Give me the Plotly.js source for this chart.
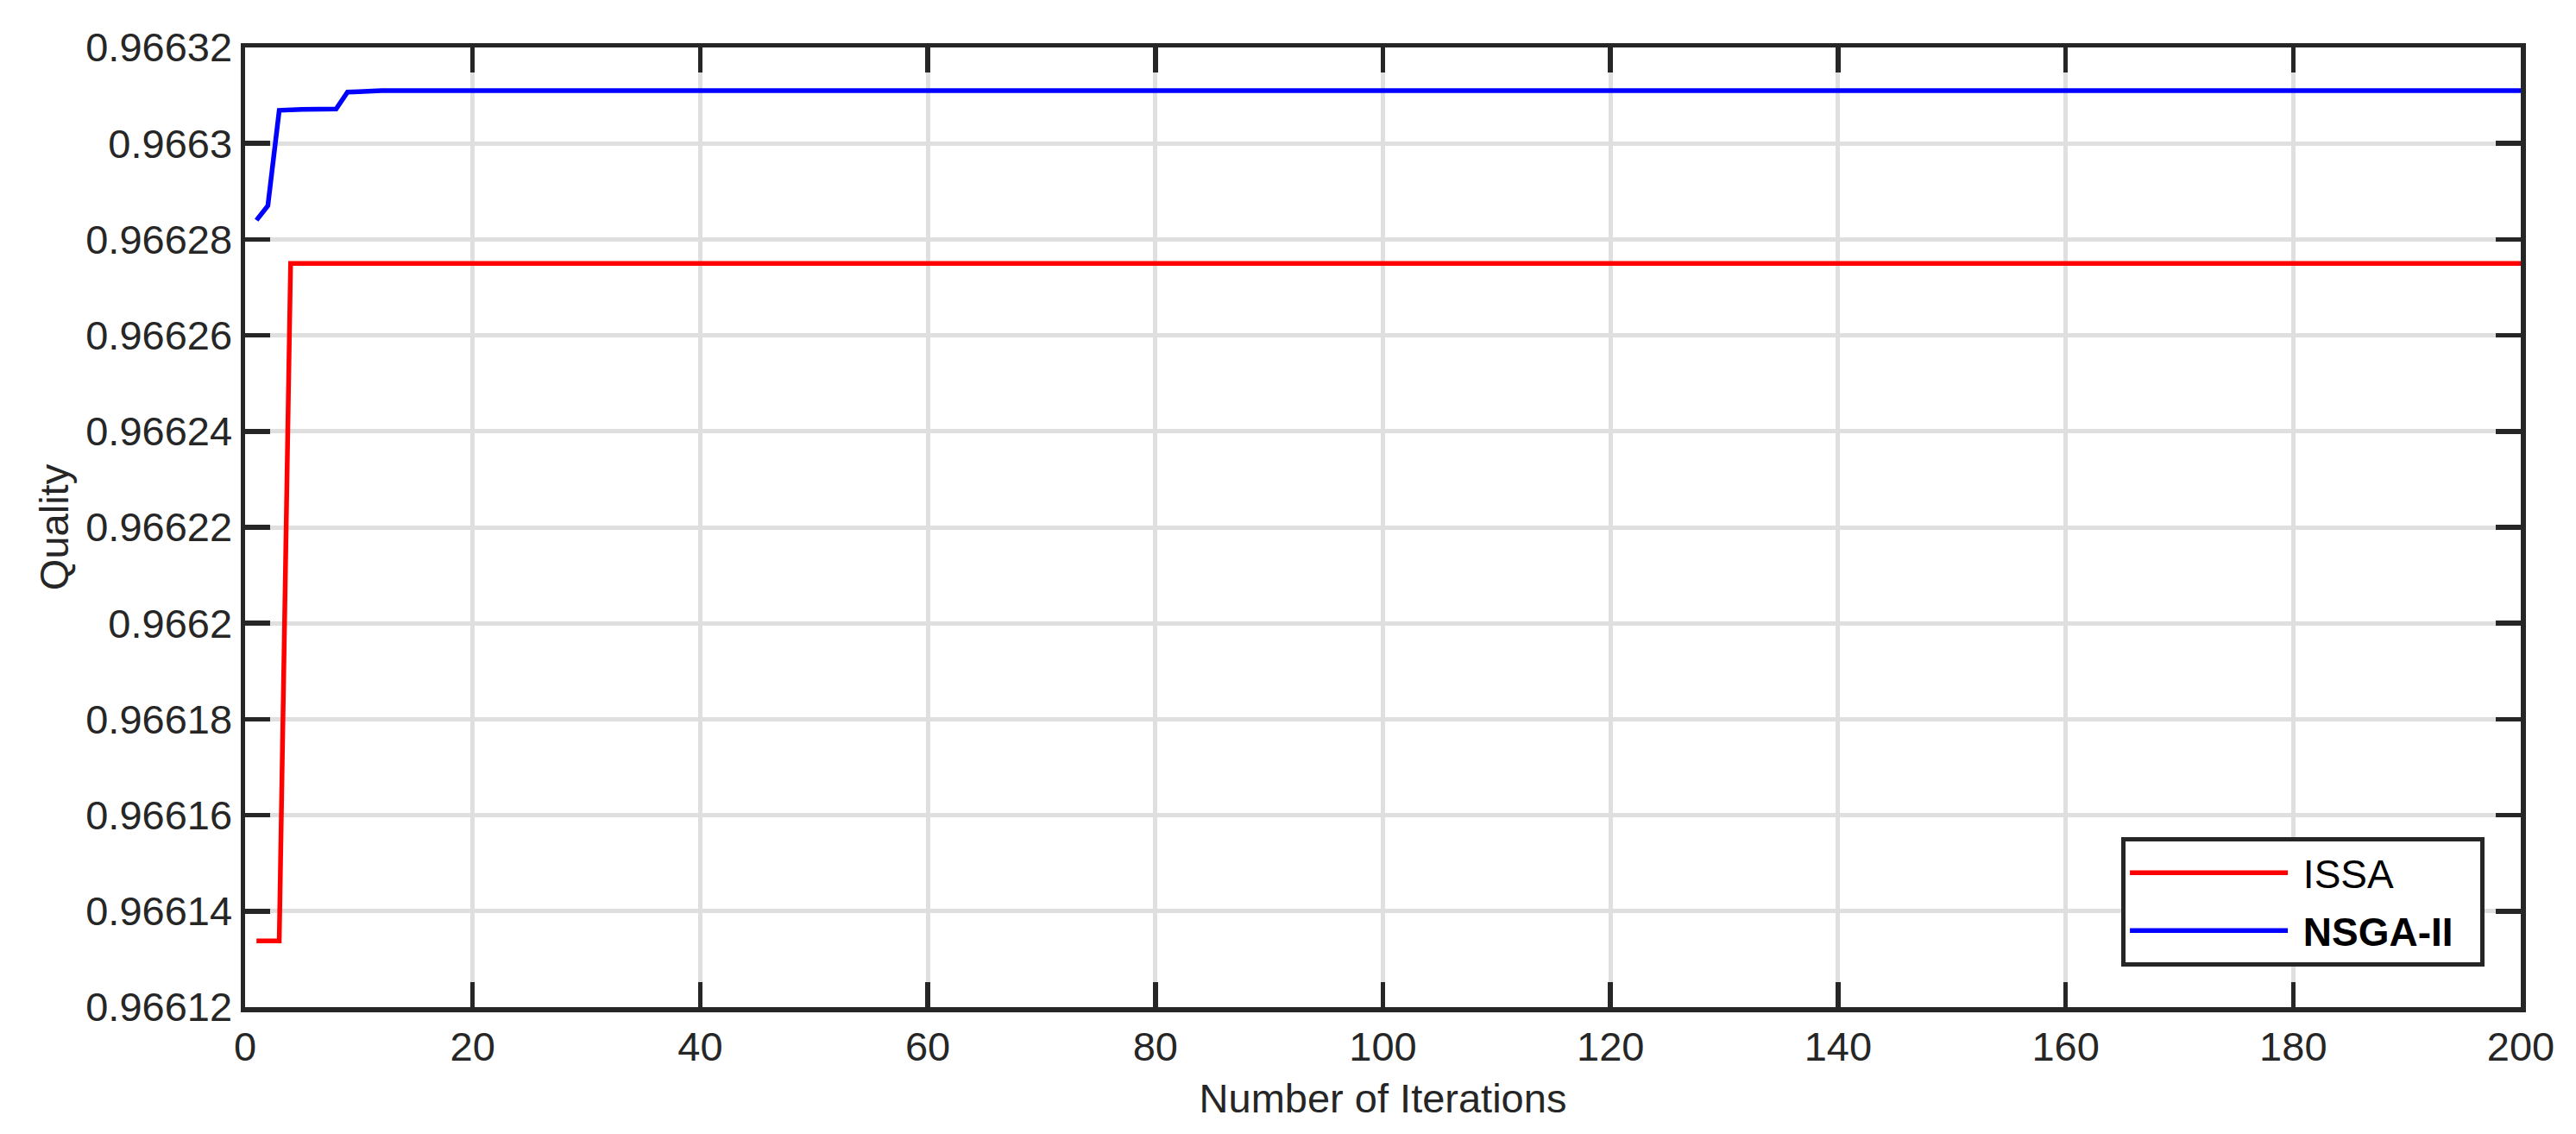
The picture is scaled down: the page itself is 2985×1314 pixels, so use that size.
<!DOCTYPE html>
<html>
<head>
<meta charset="utf-8">
<script src="https://cdn.plot.ly/plotly-3.0.1.min.js"></script>
<style>html,body{margin:0;padding:0;background:#fff;}#chart{width:2985px;height:1314px;}</style>
</head>
<body>
<div id="chart"></div>
<script>
// Series names
const seriesNames = ["ISSA", "NSGA-II"];
// ISSA: change points (flat afterwards until iteration 200)
const issaIter = [1, 2, 3, 4, 200];
const issaQuality = [0.9661338, 0.9661338, 0.9661338, 0.966275, 0.966275];
// NSGA-II: change points
const nsgaIter = [1, 2, 3, 4, 5, 8, 9, 10, 12, 200];
const nsgaQuality = [0.966284, 0.966287, 0.9663069, 0.9663069, 0.9663071, 0.9663072, 0.9663107, 0.9663108, 0.966311, 0.966311];
// Axis ticks
const xTickVals = [0, 20, 40, 60, 80, 100, 120, 140, 160, 180, 200];
const yTickVals = [0.96612, 0.96614, 0.96616, 0.96618, 0.9662, 0.96622, 0.96624, 0.96626, 0.96628, 0.9663, 0.96632];
const yTickText = ["0.96612", "0.96614", "0.96616", "0.96618", "0.9662", "0.96622", "0.96624", "0.96626", "0.96628", "0.9663", "0.96632"];
const xTitle = "Number of Iterations";
const yTitle = "Quality";

const FONT = "Liberation Sans, Arial, Helvetica, sans-serif";
const INK = "#262626";
const NB = "\u00a0";

const traces = [
  {x: issaIter, y: issaQuality, name: NB + seriesNames[0] + NB + NB, legendgroup: "a", type: "scatter", mode: "lines",
   line: {color: "#ff0000", width: 5.5}},
  {x: nsgaIter, y: nsgaQuality, name: NB + "<b>" + seriesNames[1] + "</b>" + NB + NB, legendgroup: "b", type: "scatter", mode: "lines",
   line: {color: "#0000ff", width: 5.5}}
];

const axisCommon = {
  showline: true, linecolor: INK, linewidth: 5.5, mirror: "ticks",
  ticks: "inside", ticklen: 29, tickwidth: 5.5, tickcolor: INK,
  showgrid: true, gridcolor: "#dfdfdf", gridwidth: 5,
  zeroline: false,
  tickfont: {family: FONT, size: 47, color: INK},
  automargin: false
};

const layout = {
  width: 2985, height: 1314,
  paper_bgcolor: "#ffffff", plot_bgcolor: "#ffffff",
  margin: {l: 284, r: 64, t: 55, b: 147, pad: 0},
  showlegend: true,
  xaxis: Object.assign({}, axisCommon, {
    range: [0, 200], tickmode: "array", tickvals: xTickVals,
    title: {text: xTitle, font: {family: FONT, size: 47, color: INK}, standoff: 20}
  }),
  yaxis: Object.assign({}, axisCommon, {
    range: [0.96612, 0.96632], tickmode: "array", tickvals: yTickVals, ticktext: yTickText,
    title: {text: yTitle, font: {family: FONT, size: 47, color: INK}, standoff: 6}
  }),
  legend: {
    x: 0.9841, y: 0.0423, xanchor: "right", yanchor: "bottom",
    bgcolor: "#ffffff", bordercolor: INK, borderwidth: 5,
    font: {family: FONT, size: 46, color: "#000000"},
    itemwidth: 183, traceorder: "grouped", tracegroupgap: 4
  }
};

Plotly.newPlot("chart", traces, layout, {displayModeBar: false, staticPlot: true});
</script>
</body>
</html>
